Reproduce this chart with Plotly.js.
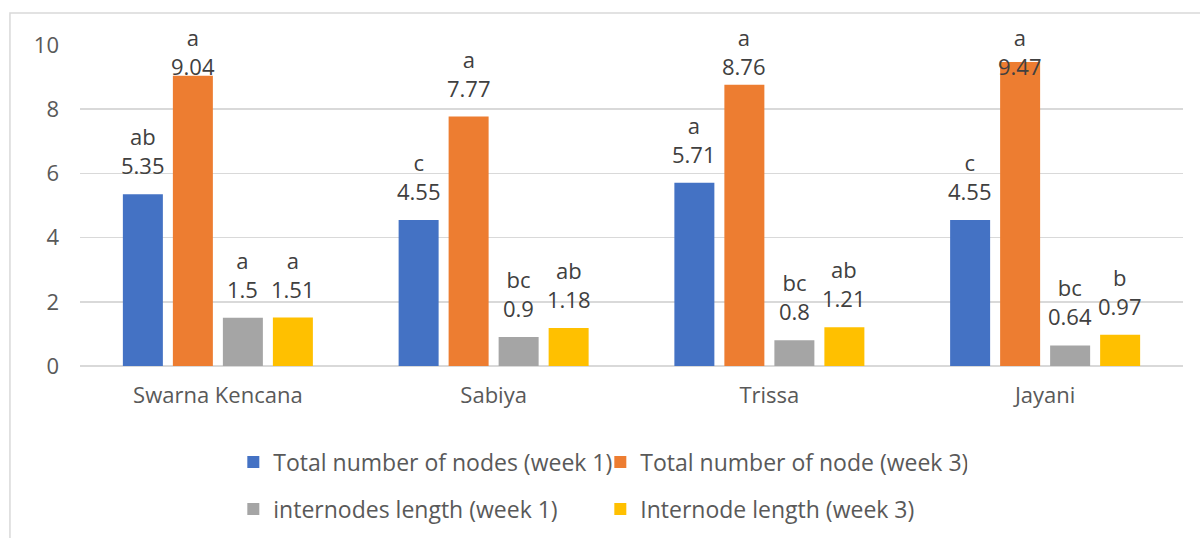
<!DOCTYPE html>
<html>
<head>
<meta charset="utf-8">
<script src="https://cdn.plot.ly/plotly-3.0.1.min.js"></script>
<style>html,body{margin:0;padding:0;background:#fff;}#chart{width:1200px;height:538px;}</style>
</head>
<body>
<div id="chart"></div>
<script>
// ---- data ----
const categories = ['Swarna Kencana', 'Sabiya', 'Trissa', 'Jayani'];
const seriesNames = [
  'Total number of nodes (week 1)',
  'Total number of node (week 3)',
  'internodes length (week 1)',
  'Internode length (week 3)'
];
const nodesWeek1 = [5.35, 4.55, 5.71, 4.55];
const nodesWeek3 = [9.04, 7.77, 8.76, 9.47];
const internodeWeek1 = [1.5, 0.9, 0.8, 0.64];
const internodeWeek3 = [1.51, 1.18, 1.21, 0.97];
const lettersNodesWeek1 = ['ab', 'c', 'a', 'c'];
const lettersNodesWeek3 = ['a', 'a', 'a', 'a'];
const lettersInternodeWeek1 = ['a', 'bc', 'bc', 'bc'];
const lettersInternodeWeek3 = ['a', 'ab', 'ab', 'b'];
const yTicks = [0, 2, 4, 6, 8, 10];

// ---- styling ----
const colors = ['#4472C4', '#ED7D31', '#A5A5A5', '#FFC000'];
const FONT = 'Open Sans, Noto Sans, sans-serif';
const values = [nodesWeek1, nodesWeek3, internodeWeek1, internodeWeek3];
const letters = [lettersNodesWeek1, lettersNodesWeek3, lettersInternodeWeek1, lettersInternodeWeek3];
const legendIds = ['legend', 'legend', 'legend2', 'legend2'];
const labelCeiling = 8.45; // data labels are kept below the chart top

const traces = values.map((v, i) => ({
  type: 'bar',
  name: seriesNames[i],
  x: categories,
  y: v,
  marker: {color: colors[i], line: {width: 0}},
  legend: legendIds[i],
  hoverinfo: 'x+y+name'
}));

const slotPx = 50;
const annotations = [];
values.forEach((v, i) => {
  v.forEach((val, j) => {
    annotations.push({
      x: categories[j], y: Math.min(val, labelCeiling), xref: 'x', yref: 'y',
      text: letters[i][j] + '<br>' + String(val),
      showarrow: false, yanchor: 'bottom', xanchor: 'center',
      xshift: (i - 1.5) * slotPx, yshift: 12,
      font: {family: FONT, size: 22, color: '#404040'}
    });
  });
});

const legendCommon = {
  orientation: 'h', x: 0.139, xanchor: 'left', yanchor: 'middle',
  entrywidth: 322, entrywidthmode: 'pixels', traceorder: 'normal',
  font: {family: FONT, size: 23, color: '#595959'}, bgcolor: 'rgba(0,0,0,0)'
};

const layout = {
  width: 1200, height: 538,
  margin: {l: 80, r: 17, t: 45, b: 172, autoexpand: false},
  paper_bgcolor: '#ffffff', plot_bgcolor: '#ffffff',
  barmode: 'group', bargap: 0.2747, bargroupgap: 0.2,
  font: {family: FONT, size: 22, color: '#595959'},
  xaxis: {
    type: 'category', showgrid: false, ticks: '', showline: false, zeroline: false,
    tickfont: {family: FONT, size: 22, color: '#595959'}, ticklabelstandoff: 14
  },
  yaxis: {
    range: [0, 10], tickvals: yTicks, showgrid: true, gridcolor: '#d9d9d9', gridwidth: 1.5,
    zeroline: true, zerolinecolor: '#d9d9d9', zerolinewidth: 1.5, showline: false, ticks: '',
    tickfont: {family: FONT, size: 22, color: '#595959'}, ticklabelstandoff: 20
  },
  showlegend: true,
  legend: Object.assign({}, legendCommon, {y: -0.299}),
  legend2: Object.assign({}, legendCommon, {y: -0.4455}),
  annotations: annotations,
  shapes: [{
    type: 'rect', xref: 'paper', yref: 'paper', layer: 'below',
    x0: -0.0635, x1: 1.0245, y0: -0.604, y1: 1.0997,
    line: {color: '#d9d9d9', width: 1.5}, fillcolor: 'rgba(0,0,0,0)'
  }]
};

Plotly.newPlot('chart', traces, layout, {displayModeBar: false, staticPlot: true});
</script>
</body>
</html>
